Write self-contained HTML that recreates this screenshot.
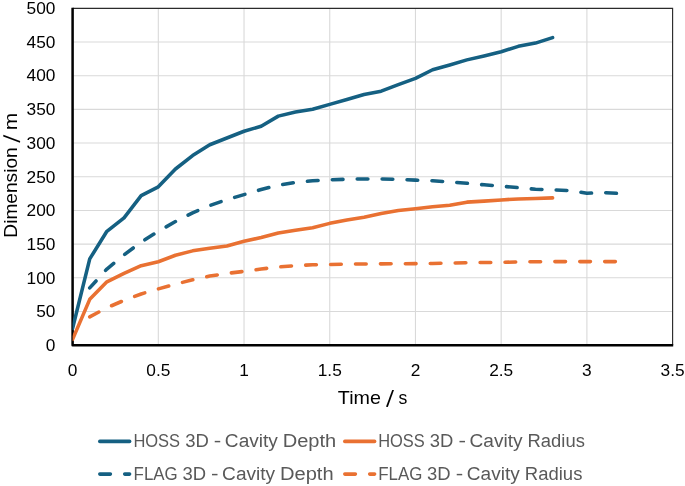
<!DOCTYPE html>
<html lang="en"><head><meta charset="utf-8"><title>Cavity dimension vs time</title>
<style>html,body{margin:0;padding:0;background:#fff}svg{display:block;will-change:transform;opacity:.999}text{font-family:"Liberation Sans",sans-serif}</style></head><body>
<svg width="685" height="486" viewBox="0 0 685 486">
<rect width="685" height="486" fill="#ffffff"/>
<g stroke="#d9d9d9" stroke-width="1.1" fill="none"><line x1="72.6" x2="672.6" y1="311.47" y2="311.47"/><line x1="72.6" x2="672.6" y1="277.79" y2="277.79"/><line x1="72.6" x2="672.6" y1="244.11" y2="244.11"/><line x1="72.6" x2="672.6" y1="210.43" y2="210.43"/><line x1="72.6" x2="672.6" y1="176.75" y2="176.75"/><line x1="72.6" x2="672.6" y1="143.07" y2="143.07"/><line x1="72.6" x2="672.6" y1="109.39" y2="109.39"/><line x1="72.6" x2="672.6" y1="75.71" y2="75.71"/><line x1="72.6" x2="672.6" y1="42.03" y2="42.03"/><line y1="8.35" y2="345.15" x1="158.31" x2="158.31"/><line y1="8.35" y2="345.15" x1="244.03" x2="244.03"/><line y1="8.35" y2="345.15" x1="329.74" x2="329.74"/><line y1="8.35" y2="345.15" x1="415.46" x2="415.46"/><line y1="8.35" y2="345.15" x1="501.17" x2="501.17"/><line y1="8.35" y2="345.15" x1="586.89" x2="586.89"/></g>
<path d="M72.6 8.35 H672.6 V345.15" fill="none" stroke="#2b2b2b" stroke-width="1.15"/>
<path d="M72.6 7.75 V345.15 H673.2" fill="none" stroke="#000" stroke-width="2.5" stroke-linejoin="round"/>
<clipPath id="plot"><rect x="72.6" y="8.35" width="600.0" height="336.79999999999995"/></clipPath>
<g clip-path="url(#plot)" fill="none" stroke-width="3.56" stroke-linecap="round" stroke-linejoin="round">
<polyline stroke="#156082" points="72.60,328.31 89.74,258.93 106.89,231.31 124.03,217.84 141.17,195.61 158.31,186.85 175.46,169.00 192.60,155.53 209.74,144.75 226.89,138.02 244.03,131.28 261.17,126.23 278.31,116.13 295.46,112.08 312.60,109.19 329.74,104.41 346.89,99.49 364.03,94.57 381.17,91.20 398.31,84.67 415.46,78.40 432.60,69.78 449.74,64.93 466.89,59.88 484.03,55.97 501.17,51.73 518.31,46.34 535.46,43.11 552.60,37.65"/>
<polyline stroke="#E97132" points="72.60,339.42 89.74,299.35 106.89,281.83 124.03,273.41 141.17,265.67 158.31,261.76 175.46,255.22 192.60,250.85 209.74,248.15 226.89,245.93 244.03,241.21 261.17,237.51 278.31,233.00 295.46,230.30 312.60,227.81 329.74,223.36 346.89,219.93 364.03,217.17 381.17,213.46 398.31,210.50 415.46,208.81 432.60,206.79 449.74,205.31 466.89,202.14 484.03,201.13 501.17,199.92 518.31,198.91 535.46,198.44 552.60,197.90"/>
<polyline stroke="#156082" stroke-dasharray="10.68 14.24" stroke-dashoffset="1.3" points="89.74,287.89 106.89,269.03 124.03,254.89 141.17,242.09 158.31,231.31 175.46,221.54 192.60,212.79 209.74,205.51 226.89,199.65 244.03,194.60 261.17,189.55 278.31,185.17 295.46,182.48 312.60,180.79 329.74,179.78 346.89,179.24 364.03,178.91 381.17,179.04 398.31,179.44 415.46,180.12 432.60,180.79 449.74,181.94 466.89,183.28 484.03,184.83 501.17,186.18 518.31,187.66 535.46,189.28 552.60,189.82 569.74,190.56 586.89,193.25 604.03,192.58 621.17,193.59"/>
<polyline stroke="#E97132" stroke-dasharray="10.68 14.24" stroke-dashoffset="0.4" points="89.74,316.86 106.89,307.77 124.03,300.36 141.17,293.96 158.31,288.90 175.46,284.19 192.60,279.81 209.74,276.11 226.89,273.41 244.03,271.39 261.17,269.03 278.31,267.01 295.46,265.67 312.60,264.79 329.74,264.45 346.89,264.18 364.03,263.98 381.17,263.85 398.31,263.78 415.46,263.64 432.60,263.44 449.74,263.11 466.89,262.77 484.03,262.50 501.17,262.30 518.31,261.96 535.46,261.76 552.60,261.62 569.74,261.62 586.89,261.62 604.03,261.62 621.17,261.62"/>
</g>
<g font-size="17.3" fill="#000">
<text x="55.4" y="350.90" text-anchor="end">0</text>
<text x="55.4" y="317.22" text-anchor="end">50</text>
<text x="55.4" y="283.54" text-anchor="end">100</text>
<text x="55.4" y="249.86" text-anchor="end">150</text>
<text x="55.4" y="216.18" text-anchor="end">200</text>
<text x="55.4" y="182.50" text-anchor="end">250</text>
<text x="55.4" y="148.82" text-anchor="end">300</text>
<text x="55.4" y="115.14" text-anchor="end">350</text>
<text x="55.4" y="81.46" text-anchor="end">400</text>
<text x="55.4" y="47.78" text-anchor="end">450</text>
<text x="55.4" y="14.10" text-anchor="end">500</text>
<text x="72.60" y="375.55" text-anchor="middle">0</text>
<text x="158.31" y="375.55" text-anchor="middle">0.5</text>
<text x="244.03" y="375.55" text-anchor="middle">1</text>
<text x="329.74" y="375.55" text-anchor="middle">1.5</text>
<text x="415.46" y="375.55" text-anchor="middle">2</text>
<text x="501.17" y="375.55" text-anchor="middle">2.5</text>
<text x="586.89" y="375.55" text-anchor="middle">3</text>
<text x="672.60" y="375.55" text-anchor="middle">3.5</text>
</g>
<text y="403.8" font-size="18.5" fill="#000"><tspan x="337.89" textLength="43.09" lengthAdjust="spacingAndGlyphs">Time</tspan> <tspan x="385.91" dy="2.6" font-size="23.5" rotate="5">/</tspan><tspan dy="-2.6"> </tspan><tspan x="398.62" textLength="8.82" lengthAdjust="spacingAndGlyphs">s</tspan></text>
<text transform="translate(17.1 486) rotate(-90)" font-size="18.5" fill="#000"><tspan x="248.38" textLength="90.29" lengthAdjust="spacingAndGlyphs">Dimension</tspan> <tspan x="343.30" dy="2.6" font-size="23.5" rotate="5">/</tspan><tspan dy="-2.6"> </tspan><tspan x="355.79" textLength="17.51" lengthAdjust="spacingAndGlyphs">m</tspan></text>
<g fill="none" stroke-width="3.56" stroke-linecap="round">
<line x1="99.8" x2="129.6" y1="441.4" y2="441.4" stroke="#156082"/>
<path d="M99.8 474.1 H110.4 M124.7 474.1 H129.6" stroke="#156082"/>
<line x1="344.8" x2="374.6" y1="441.4" y2="441.4" stroke="#E97132"/>
<path d="M344.8 474.1 H355.4 M369.7 474.1 H374.6" stroke="#E97132"/>
</g>
<text y="447.0" font-size="18" fill="#595959"><tspan x="133.39" textLength="46.71" lengthAdjust="spacingAndGlyphs">HOSS</tspan> <tspan x="185.16" textLength="23.61" lengthAdjust="spacingAndGlyphs">3D</tspan> <tspan x="213.87" textLength="7.49" lengthAdjust="spacingAndGlyphs">-</tspan> <tspan x="224.86" textLength="53.01" lengthAdjust="spacingAndGlyphs">Cavity</tspan> <tspan x="282.73" textLength="53.54" lengthAdjust="spacingAndGlyphs">Depth</tspan></text>
<text y="479.90000000000003" font-size="18" fill="#595959"><tspan x="133.59" textLength="44.12" lengthAdjust="spacingAndGlyphs">FLAG</tspan> <tspan x="182.49" textLength="23.56" lengthAdjust="spacingAndGlyphs">3D</tspan> <tspan x="211.12" textLength="7.51" lengthAdjust="spacingAndGlyphs">-</tspan> <tspan x="222.14" textLength="53.02" lengthAdjust="spacingAndGlyphs">Cavity</tspan> <tspan x="280.01" textLength="53.61" lengthAdjust="spacingAndGlyphs">Depth</tspan></text>
<text y="447.0" font-size="18" fill="#595959"><tspan x="378.19" textLength="46.60" lengthAdjust="spacingAndGlyphs">HOSS</tspan> <tspan x="429.85" textLength="23.53" lengthAdjust="spacingAndGlyphs">3D</tspan> <tspan x="458.54" textLength="7.49" lengthAdjust="spacingAndGlyphs">-</tspan> <tspan x="469.53" textLength="53.03" lengthAdjust="spacingAndGlyphs">Cavity</tspan> <tspan x="527.58" textLength="57.30" lengthAdjust="spacingAndGlyphs">Radius</tspan></text>
<text y="479.90000000000003" font-size="18" fill="#595959"><tspan x="378.26" textLength="44.11" lengthAdjust="spacingAndGlyphs">FLAG</tspan> <tspan x="427.11" textLength="23.57" lengthAdjust="spacingAndGlyphs">3D</tspan> <tspan x="455.85" textLength="7.48" lengthAdjust="spacingAndGlyphs">-</tspan> <tspan x="466.82" textLength="52.95" lengthAdjust="spacingAndGlyphs">Cavity</tspan> <tspan x="524.86" textLength="57.53" lengthAdjust="spacingAndGlyphs">Radius</tspan></text>
</svg></body></html>
